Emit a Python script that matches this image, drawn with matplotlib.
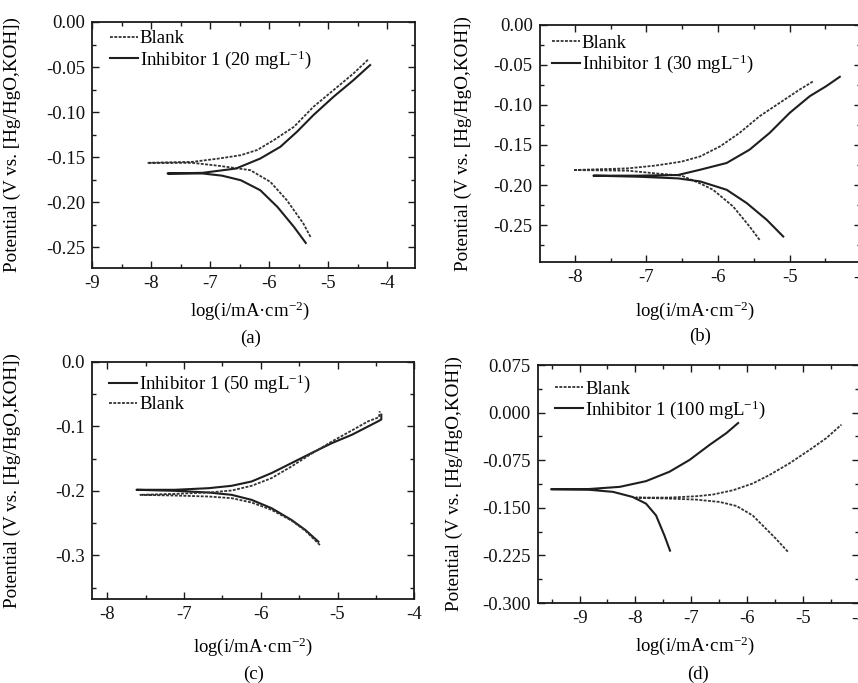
import numpy as np
import matplotlib
matplotlib.use("Agg")
import matplotlib.pyplot as plt
from matplotlib.ticker import MultipleLocator, FormatStrFormatter

plt.rcParams['font.family'] = ['Liberation Serif', 'DejaVu Serif']
plt.rcParams['mathtext.fontset'] = 'custom'
plt.rcParams['mathtext.rm'] = 'Liberation Serif'
plt.rcParams['mathtext.default'] = 'regular'
plt.rcParams['axes.unicode_minus'] = False
plt.rcParams['font.size'] = 13

# each curve runs from the cathodic tip, through Ecorr, out to the anodic tip
# (a) 20 mg/L
a_blank_x = [-5.30, -5.42, -5.70, -5.98, -6.32, -6.85, -7.30, -8.06,
             -7.30, -6.85, -6.48, -6.20, -5.92, -5.58, -5.25, -4.91, -4.57, -4.32]
a_blank_y = [-0.2385, -0.2237, -0.1978, -0.1774, -0.1644, -0.1596, -0.1563, -0.1563,
             -0.1552, -0.1515, -0.1478, -0.1420, -0.1310, -0.1163, -0.0941, -0.0756, -0.0570, -0.0415]
a_inh_x = [-5.38, -5.58, -5.86, -6.15, -6.48, -6.80, -7.13, -7.72,
           -7.13, -6.56, -6.15, -5.81, -5.53, -5.25, -4.91, -4.57, -4.29]
a_inh_y = [-0.2452, -0.2274, -0.2052, -0.1867, -0.1756, -0.1705, -0.1681, -0.1681,
           -0.1674, -0.1626, -0.1515, -0.1385, -0.1219, -0.1033, -0.0830, -0.0644, -0.0478]

# (b) 30 mg/L
b_blank_x = [-5.42, -5.56, -5.79, -6.07, -6.25, -6.51, -6.88, -7.26, -8.02,
             -7.26, -6.88, -6.51, -6.25, -5.97, -5.70, -5.42, -5.14, -4.86, -4.67]
b_blank_y = [-0.2684, -0.2517, -0.2267, -0.2059, -0.1980, -0.1883, -0.1854, -0.1821, -0.1813,
             -0.1792, -0.1758, -0.1708, -0.1643, -0.1517, -0.1350, -0.1142, -0.0975, -0.0809, -0.0705]
b_inh_x = [-5.09, -5.32, -5.60, -5.88, -6.25, -6.56, -7.12, -7.74,
           -7.12, -6.56, -6.25, -5.88, -5.56, -5.28, -5.00, -4.72, -4.49, -4.30]
b_inh_y = [-0.2642, -0.2434, -0.2225, -0.2059, -0.1955, -0.1917, -0.1896, -0.1883,
           -0.1883, -0.1875, -0.1809, -0.1725, -0.1559, -0.1350, -0.1100, -0.0892, -0.0767, -0.0650]

# (c) 50 mg/L
c_inh_x = [-5.25, -5.42, -5.60, -5.86, -6.12, -6.38, -6.68, -7.12, -7.62,
           -7.12, -6.68, -6.38, -6.12, -5.86, -5.60, -5.34, -5.07, -4.81, -4.47, -4.43, -4.43]
c_inh_y = [-0.2788, -0.2606, -0.2451, -0.2269, -0.2140, -0.2062, -0.2026, -0.2000, -0.1984,
           -0.1984, -0.1959, -0.1922, -0.1855, -0.1725, -0.1570, -0.1415, -0.1259, -0.1130, -0.0922, -0.0895, -0.0820]
c_blank_x = [-5.23, -5.42, -5.60, -5.86, -6.12, -6.38, -6.68, -7.12, -7.57,
             -7.12, -6.68, -6.38, -6.12, -5.86, -5.60, -5.34, -5.07, -4.81, -4.60, -4.46, -4.45]
c_blank_y = [-0.2840, -0.2617, -0.2461, -0.2295, -0.2181, -0.2114, -0.2088, -0.2073, -0.2062,
             -0.2047, -0.2026, -0.1995, -0.1922, -0.1803, -0.1622, -0.1425, -0.1233, -0.1062, -0.0922, -0.0860, -0.0766]

# (d) 100 mg/L
d_blank_x = [-5.27, -5.48, -5.66, -5.90, -6.19, -6.49, -6.91, -7.39, -7.99,
             -7.39, -6.91, -6.61, -6.25, -5.90, -5.60, -5.24, -4.88, -4.58, -4.31]
d_blank_y = [-0.2191, -0.1990, -0.1831, -0.1620, -0.1471, -0.1408, -0.1371, -0.1355, -0.1339,
             -0.1339, -0.1318, -0.1291, -0.1223, -0.1117, -0.0984, -0.0799, -0.0588, -0.0402, -0.0191]
d_inh_x = [-7.38, -7.48, -7.63, -7.81, -8.05, -8.40, -8.88, -9.51,
           -8.88, -8.28, -7.81, -7.39, -7.03, -6.67, -6.37, -6.16]
d_inh_y = [-0.2175, -0.1937, -0.1620, -0.1434, -0.1329, -0.1249, -0.1212, -0.1207,
           -0.1207, -0.1170, -0.1080, -0.0932, -0.0746, -0.0508, -0.0323, -0.0164]

xlabel = 'log(i/mA·cm$^{-2}$)'
ylabel = 'Potential (V vs. [Hg/HgO,KOH])'

fig = plt.figure(figsize=(8.58, 6.83), dpi=100)


def panel(rect, xlim, ylim, xmaj, ymaj, ymin, yfmt, ylab_x, xlab_xy, tag_xy):
    ax = fig.add_axes(rect)
    ax.set_xlim(*xlim)
    ax.set_ylim(*ylim)
    ax.xaxis.set_major_locator(MultipleLocator(xmaj))
    ax.xaxis.set_minor_locator(MultipleLocator(xmaj / 2))
    ax.yaxis.set_major_locator(MultipleLocator(ymaj))
    ax.yaxis.set_minor_locator(MultipleLocator(ymin))
    ax.yaxis.set_major_formatter(FormatStrFormatter(yfmt))
    ax.xaxis.set_major_formatter(FormatStrFormatter('%d'))
    ax.tick_params(which='both', direction='in', top=True, right=True,
                   width=1.0, labelsize=13.5, color='#1a1a1a', labelcolor='#111111')
    ax.tick_params(which='major', length=5, pad=5)
    ax.tick_params(which='minor', length=3)
    for s in ax.spines.values():
        s.set_linewidth(1.3)
        s.set_color('#1a1a1a')
    ax.set_ylabel(ylabel, fontsize=13.8)
    ax.yaxis.set_label_coords(ylab_x, 0.5)
    lab = ax.set_xlabel(xlabel, fontsize=13.5)
    lab.set_va('center')
    ax.xaxis.set_label_coords(*xlab_xy)
    ax.text(tag_xy[0], tag_xy[1], tag_xy[2], transform=ax.transAxes,
            ha='center', va='center', fontsize=13.5)
    return ax


def draw(ax, x, y, name, dashed):
    if dashed:
        ax.plot(x, y, color='#333333', lw=1.3, ls=(0, (1.6, 0.8)), label=name)
    else:
        ax.plot(x, y, color='#1e1e1e', lw=1.5, ls='-', label=name)


def legend(ax, anchor):
    ax.legend(loc='upper left', bbox_to_anchor=anchor, frameon=False,
              fontsize=13.5, handlelength=1.5, handletextpad=0.1,
              labelspacing=0.05, borderpad=0, borderaxespad=0)


# (a)
ax = panel([92 / 858, 1 - 268 / 683, 323 / 858, 246 / 683],
           (-9.0, -3.53), (-0.273, 0.0), 1, 0.05, 0.025, '%.2f',
           -0.221, (0.49, -0.172), (0.49, -0.285, '(a)'))
draw(ax, a_blank_x, a_blank_y, 'Blank', True)
draw(ax, a_inh_x, a_inh_y, 'Inhibitor 1 (20 mgL$^{-1}$)', False)
legend(ax, (0.055, 0.967))

# (b)
ax = panel([539.7 / 858, 1 - 262 / 683, 321.6 / 858, 237.3 / 683],
           (-8.49, -4.0), (-0.296, 0.0), 1, 0.05, 0.025, '%.2f',
           -0.211, (0.483, -0.204), (0.5, -0.315, '(b)'))
draw(ax, b_blank_x, b_blank_y, 'Blank', True)
draw(ax, b_inh_x, b_inh_y, 'Inhibitor 1 (30 mgL$^{-1}$)', False)
legend(ax, (0.037, 0.958))

# (c)
ax = panel([92 / 858, 1 - 599.3 / 683, 322.3 / 858, 237.6 / 683],
           (-8.2, -4.0), (-0.368, 0.0), 1, 0.1, 0.05, '%.1f',
           -0.221, (0.5, -0.2), (0.5, -0.315, '(c)'))
draw(ax, c_inh_x, c_inh_y, 'Inhibitor 1 (50 mgL$^{-1}$)', False)
draw(ax, c_blank_x, c_blank_y, 'Blank', True)
legend(ax, (0.053, 0.953))

# (d)
ax = panel([537.7 / 858, 1 - 603 / 683, 321 / 858, 238 / 683],
           (-9.75, -4.0), (-0.3, 0.075), 1, 0.075, 0.0375, '%.3f',
           -0.232, (0.49, -0.18), (0.50, -0.3, '(d)'))
draw(ax, d_blank_x, d_blank_y, 'Blank', True)
draw(ax, d_inh_x, d_inh_y, 'Inhibitor 1 (100 mgL$^{-1}$)', False)
legend(ax, (0.054, 0.935))

fig.savefig('out.png', dpi=100)
